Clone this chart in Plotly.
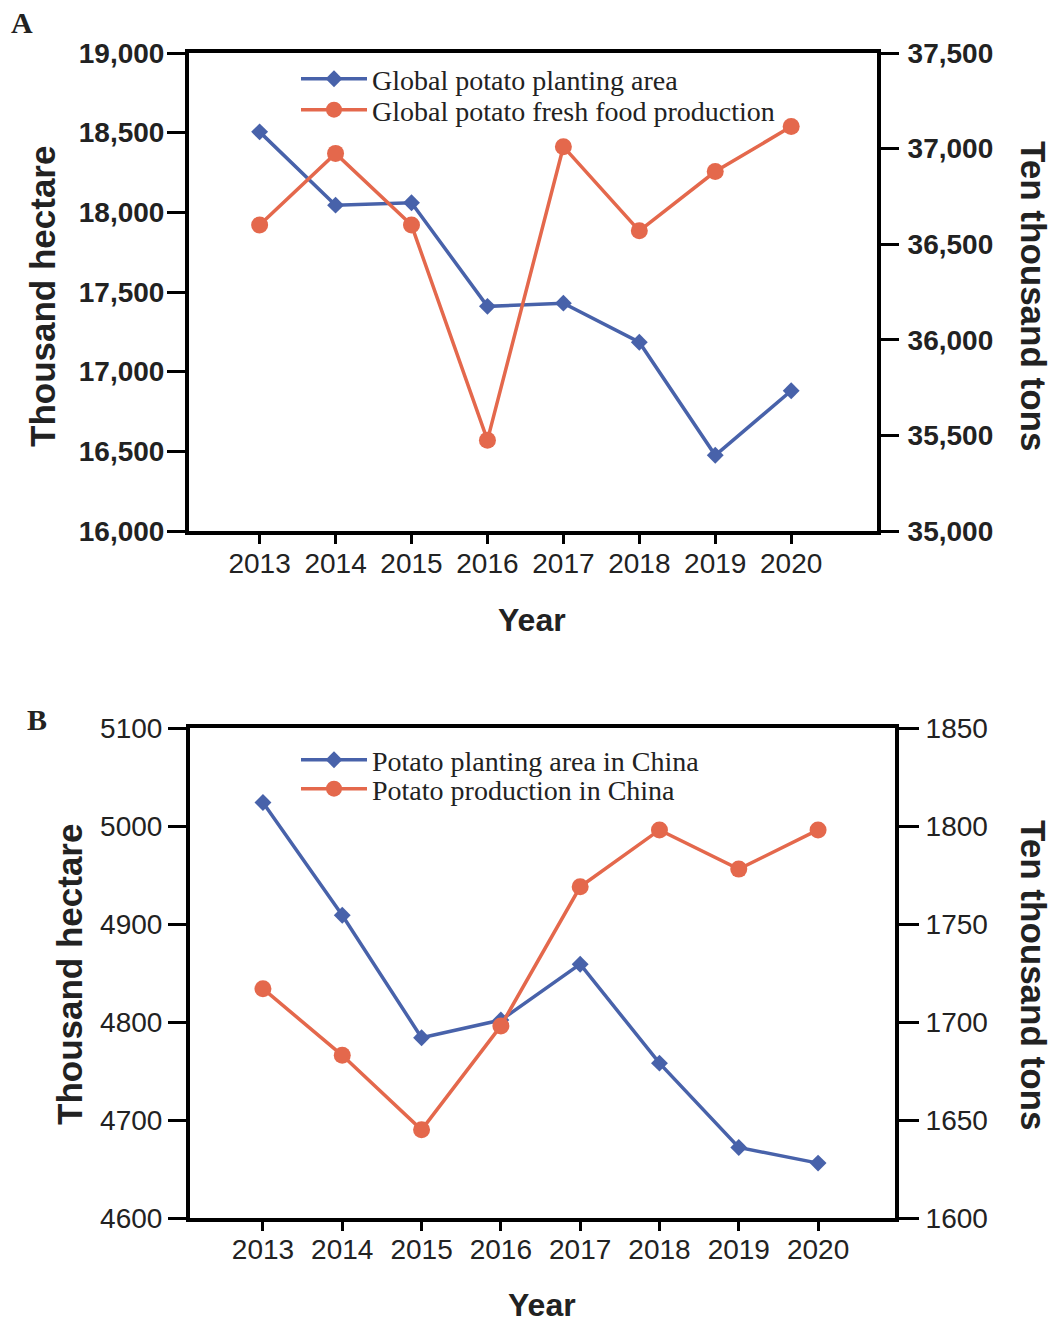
import plotly.graph_objects as go

years = [2013, 2014, 2015, 2016, 2017, 2018, 2019, 2020]
year_labels = [str(y) for y in years]

# Panel A (global)
global_area = [18505, 18045, 18060, 17410, 17430, 17185, 16475, 16880]          # thousand hectare
global_production = [36600, 36975, 36600, 35475, 37010, 36570, 36880, 37115]    # ten thousand tons

# Panel B (China)
china_area = [5024, 4909, 4784, 4802, 4859, 4758, 4672, 4656]                   # thousand hectare
china_production = [1717, 1683, 1645, 1698, 1769, 1798, 1778, 1798]            # ten thousand tons

BLUE = "#4862AA"
ORANGE = "#E4684C"
SANS = "Liberation Sans"
SERIF = "Liberation Serif"
W, H = 1053, 1324

def px_x(p):
    return p / W

def px_y(p):
    return 1 - p / H

fig = go.Figure()

fig.add_trace(go.Scatter(x=years, y=global_area, name="Global potato planting area",
                         mode="lines+markers", line=dict(color=BLUE, width=3.5),
                         marker=dict(symbol="diamond", size=13, color=BLUE),
                         xaxis="x", yaxis="y", legend="legend"))
fig.add_trace(go.Scatter(x=years, y=global_production, name="Global potato fresh food production",
                         mode="lines+markers", line=dict(color=ORANGE, width=3.5),
                         marker=dict(symbol="circle", size=17, color=ORANGE),
                         xaxis="x", yaxis="y2", legend="legend2"))
fig.add_trace(go.Scatter(x=years, y=china_area, name="Potato planting area in China",
                         mode="lines+markers", line=dict(color=BLUE, width=3.5),
                         marker=dict(symbol="diamond", size=13, color=BLUE),
                         xaxis="x2", yaxis="y3", legend="legend3"))
fig.add_trace(go.Scatter(x=years, y=china_production, name="Potato production in China",
                         mode="lines+markers", line=dict(color=ORANGE, width=3.5),
                         marker=dict(symbol="circle", size=17, color=ORANGE),
                         xaxis="x2", yaxis="y4", legend="legend4"))

axis_common = dict(showline=True, linecolor="black", linewidth=4, showgrid=False,
                   zeroline=False, ticks="outside", tickcolor="black", tickwidth=3,
                   automargin=False)

domA_x = [px_x(189), px_x(877)]
domA_y = [px_y(531), px_y(53)]
domB_x = [px_x(190), px_x(895)]
domB_y = [px_y(1218), px_y(728)]

def legend_at(y_center):
    return dict(x=px_x(296), y=px_y(y_center), xanchor="left", yanchor="middle",
                bgcolor="rgba(0,0,0,0)", borderwidth=0,
                font=dict(family=SERIF, size=28, color="#222"), itemwidth=66)

fig.update_layout(
    width=W, height=H,
    margin=dict(l=0, r=0, t=0, b=0, pad=0, autoexpand=False),
    template="none",
    paper_bgcolor="white", plot_bgcolor="white",
    showlegend=True,
    xaxis=dict(**axis_common, domain=domA_x, anchor="y", range=[2012.07, 2021.13],
               tickvals=years, ticktext=year_labels, ticklen=9, mirror=True,
               tickfont=dict(family=SANS, size=28, color="#222"), ticklabelstandoff=-5),
    yaxis=dict(**axis_common, domain=domA_y, anchor="x", range=[16000, 19000],
               tickvals=[16000, 16500, 17000, 17500, 18000, 18500, 19000],
               tickformat=",d", ticklen=18, ticklabelstandoff=-3,
               tickfont=dict(family=SANS, size=28, color="#222", weight="bold")),
    yaxis2=dict(**axis_common, overlaying="y", side="right", anchor="x", range=[35000, 37500],
                tickvals=[35000, 35500, 36000, 36500, 37000, 37500],
                tickformat=",d", ticklen=18, ticklabelstandoff=3,
                tickfont=dict(family=SANS, size=28, color="#222", weight="bold")),
    xaxis2=dict(**axis_common, domain=domB_x, anchor="y3", range=[2012.08, 2020.97],
                tickvals=years, ticktext=year_labels, ticklen=9, mirror=True,
                tickfont=dict(family=SANS, size=28, color="#222"), ticklabelstandoff=-6),
    yaxis3=dict(**axis_common, domain=domB_y, anchor="x2", range=[4600, 5100],
                tickvals=[4600, 4700, 4800, 4900, 5000, 5100],
                tickformat="d", ticklen=18, ticklabelstandoff=0,
                tickfont=dict(family=SANS, size=28, color="#222")),
    yaxis4=dict(**axis_common, overlaying="y3", side="right", anchor="x2", range=[1600, 1850],
                tickvals=[1600, 1650, 1700, 1750, 1800, 1850],
                tickformat="d", ticklen=20, ticklabelstandoff=1,
                tickfont=dict(family=SANS, size=28, color="#222")),
    legend=legend_at(79),
    legend2=legend_at(110),
    legend3=legend_at(760),
    legend4=legend_at(789),
)

def ann(text, x, y, size, angle=0, family=SANS, bold=True):
    fig.add_annotation(text=text, x=px_x(x), y=px_y(y), xref="paper", yref="paper",
                       xanchor="center", yanchor="middle", showarrow=False, textangle=angle,
                       borderpad=0,
                       font=dict(family=family, size=size, color="#222",
                                 weight="bold" if bold else "normal"))

ann("A", 22, 22, 30, family=SERIF)
ann("B", 37, 719, 30, family=SERIF)
ann("Thousand hectare", 43, 297, 35, angle=-90)
ann("Ten thousand tons", 1034, 296, 35, angle=90)
ann("Year", 532, 620, 32)
ann("Thousand hectare", 70, 975, 35, angle=-90)
ann("Ten thousand tons", 1033, 975, 35, angle=90)
ann("Year", 542, 1305, 32)

fig.write_html("out.html", config={"displayModeBar": False},
               post_script="document.body.style.margin='0';document.body.style.padding='0';")
